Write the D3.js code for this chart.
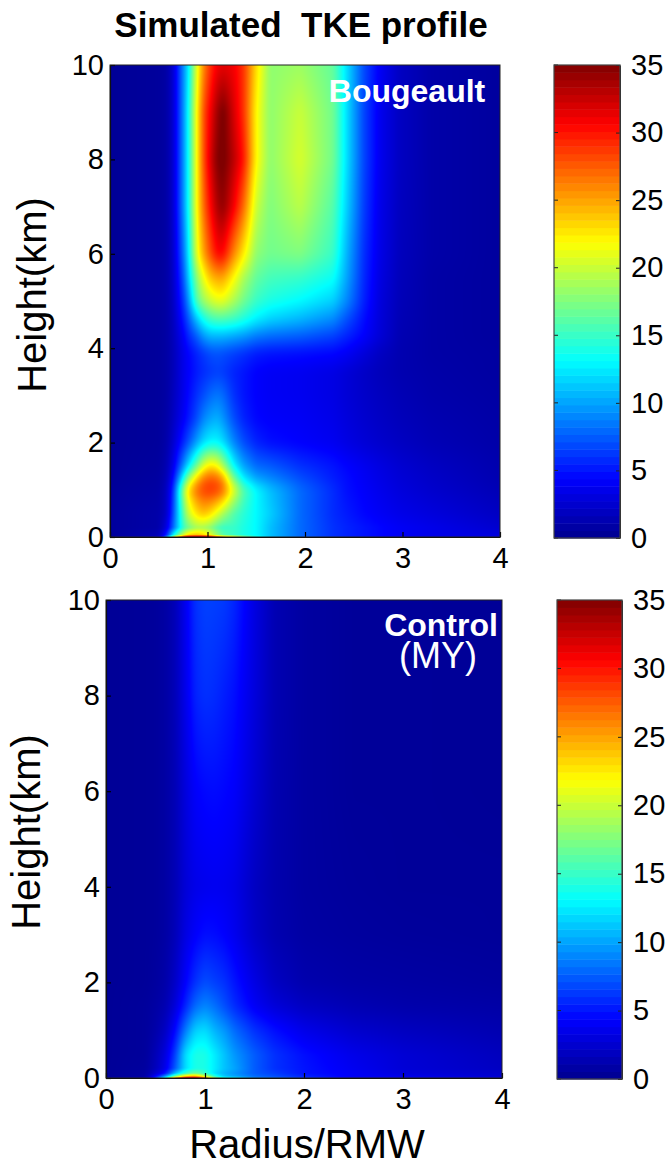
<!DOCTYPE html>
<html><head><meta charset="utf-8">
<script src="https://cdn.jsdelivr.net/npm/d3@7"></script>
<style>html,body{margin:0;padding:0;background:#fff}svg{display:block}text{font-family:"Liberation Sans",Arial,sans-serif;fill:#000}</style>
</head><body><svg id="c" width="670" height="1166"></svg>
<script>
const xTicks=[0,1,2,3,4], yTicks=[0,2,4,6,8,10], cTicks=[0,5,10,15,20,25,30,35];
const colorStops=[0,4.375,13.125,21.875,30.625,35];
const colorRange=["#00008f","#0000ff","#00ffff","#ffff00","#ff0000","#800000"];

const topRadii=[0,.5,.58,.65,.75,.8,.89,.96,1.03,1.1,1.16,1.27,1.37,1.5,1.64,1.95,2.29,2.43,2.6,2.77,2.97,3.3,4];
const topHeights=[0,.05,.2,.5,1,1.25,1.5,2,2.5,3,3.5,3.9,4.25,4.6,5,5.5,6,7,8,9,10];
const topTKE=[
[.5,2,8,20,30,33,34,34,32,28,25,22,18,14,11,8,6,5.5,5,4.5,4,3.5,3],
[.5,1.5,5,13,20,23,24,23,21,18,16,15,14,13,11,8,6,5.5,5,4.5,4,3.5,3],
[.5,1,3,8,15,17,19,19,18,16,15,15,14,13,11,8,6,5.5,5,4.5,4,3.5,2.5],
[.5,1,2,7,16,20,23,24,23,21,19,16,14.5,13,11.5,8,5.8,5.2,4.5,4,3.5,3,2],
[.4,.8,1.8,6,18,23,27,28.5,29,28.5,27,21,16,13,11,8,5.8,4.8,4.2,3.6,3,2.4,1.5],
[.3,.7,1.5,4.5,13,18,23.5,26.5,27.5,27,25,17,12.5,10,9,7,5.3,4.7,4,3.4,2.8,2.2,1.3],
[.3,.6,1.3,3.5,9,12,17,21,23,22,19,13,10,8,7.5,6,5,4.4,3.8,3.2,2.6,2,1.2],
[.3,.5,1,2.5,5.5,7,10,12,13,13,12,9,7,5.5,4.8,4.3,3.8,3.3,2.8,2.4,2,1.5,1],
[.3,.5,.9,2,4,5,7,9,10,10.5,9.5,7,5.5,4.5,4.2,4,3.5,3,2.5,2.1,1.7,1.3,.9],
[.3,.5,.8,1.8,3.5,4.5,6,7,8,8.5,8,6,5,4.3,4,3.8,3.3,2.8,2.3,1.9,1.5,1.1,.8],
[.3,.5,.8,1.6,3.5,4.2,5.2,5.8,6.2,6.5,6.3,5.5,5,4.3,4,3.8,3.3,2.8,2.2,1.7,1.3,1,.7],
[.3,.5,.8,1.6,3.5,4.3,5.5,6.3,7,7.2,7,6.5,6,5.3,5,4.8,4.5,4,3,2,1.3,.9,.7],
[.3,.5,.8,1.7,4,5.5,7.5,9.5,10.5,10.5,10.5,10,9.5,8.5,8,7.5,6.5,5.5,4.3,2.8,1.4,.9,.6],
[.3,.5,.8,1.8,5,7,11,13.5,15,15.5,15.5,15,14,12.5,11.5,10.5,9,7,4.8,2.9,1.5,.9,.6],
[.3,.5,.8,2,6,9,16,18.5,20,21,21,19,17,15,14,13,11.5,9,5.5,3,1.6,.9,.6],
[.3,.5,.8,2.2,7,11,18,21.5,24,25,25,22,19,16.5,15.5,15,13.5,10,5.8,3.2,1.7,.9,.6],
[.3,.5,.8,2.3,8,12,21,25,28,30.5,30.5,26,22.5,18,17,17.5,15,10.5,6,3.4,1.8,1,.6],
[.3,.5,.8,2.5,9,13,22,27,30.5,33.5,34.5,31,27,20,17.5,19.5,16,11.5,6.5,3.5,1.9,1,.6],
[.3,.5,.8,2.5,9,13,22,28,32,35,35.5,33,30,22,18,20.5,17,12,6.8,3.7,2,1,.6],
[.3,.5,.8,2.5,9,13,22,28,31,34,35.5,32,29,22,18,20,17,12,6.8,3.7,2,1,.6],
[.3,.5,.8,2.5,9,12,21,26,29,31,31.5,31,29,23,18,18.5,16.5,12,7,4,2,1,.6]
];

const lowRadii=[0,.4,.5,.6,.7,.8,.9,1,1.1,1.2,1.3,1.5,1.7,2,2.5,3,4];
const lowHeights=[0,.04,.1,.2,.5,1,1.5,2,3,4,6,8,10];
const lowTKE=[
[.3,1,6,14,26,32,33,28,18,14,13,9,8,6,4,3.5,3],
[.3,.8,4,9,17,23,25,20,14,11,10,8,7,5.5,4,3.5,2.5],
[.3,.7,2.5,5,11,15,17,15,12,10.5,9.5,7.5,6.5,5,4,3,2.3],
[.3,.6,1.7,3.5,7.5,12,14,14,12.5,11,10,7.5,6,5,3.8,2.8,2],
[.3,.5,1.5,3,6.5,12,14,14,12.5,11,9.5,7.5,6,4.8,3.5,2.7,1.8],
[.3,.5,1,2,4.5,8.5,11.5,12,10.5,9.5,8,6,4.8,3.5,2.4,1.9,1.3],
[.3,.5,.8,1.3,2.9,5.5,8,9,8.2,7,5.8,4,2.9,2,1.4,1.1,.9],
[.3,.4,.6,1,2.2,4.2,6,7,6.5,6,5,3.3,2,1.2,.9,.8,.6],
[.3,.4,.5,.8,1.6,3.2,4.2,4.8,4.7,4.3,3.7,2.2,1.3,.8,.6,.5,.4],
[.3,.4,.5,.8,1.5,2.8,3.5,3.7,3.8,3.7,3.4,2,1.2,.7,.5,.4,.4],
[.3,.4,.5,.8,1.5,3,4.2,4.6,4.7,4.5,4.2,2.6,1.3,.7,.4,.4,.3],
[.3,.4,.5,.8,1.6,3.5,5.5,6,5.8,5.3,4.8,3,1.4,.7,.4,.4,.3],
[.3,.4,.5,.8,1.6,3.7,6,6.6,6.5,6.3,5.6,3.2,1.4,.7,.4,.4,.3]
];

const color=d3.scaleLinear().domain(colorStops).range(colorRange).clamp(true);
const svg=d3.select("#c");

function field(R,H,Z,w,h,x,y){
  const vals=new Float32Array(w*h);
  const bi=d3.bisector(d=>d).right;
  for(let j=0;j<h;j++){
    const hv=y.invert(j+.5), j1=Math.min(Math.max(bi(H,hv),1),H.length-1), j0=j1-1, ty=(hv-H[j0])/(H[j1]-H[j0]);
    for(let i=0;i<w;i++){
      const rv=x.invert(i+.5), i1=Math.min(Math.max(bi(R,rv),1),R.length-1), i0=i1-1, tx=(rv-R[i0])/(R[i1]-R[i0]);
      vals[j*w+i]=(Z[j0][i0]*(1-tx)+Z[j0][i1]*tx)*(1-ty)+(Z[j1][i0]*(1-tx)+Z[j1][i1]*tx)*ty;
    }
  }
  const blurred=new Float32Array(vals);
  d3.blur2({data:blurred,width:w,height:h},2,0);
  const out=new Float32Array(w*h);
  for(let i=0;i<w;i++)for(let j=0;j<h;j++){
    const rad=Math.min(6,Math.floor((h-1-j)/6));let s=0,n=0;
    for(let k=-rad;k<=rad;k++){const q=j+k;if(q>=0&&q<h){s+=blurred[q*w+i];n++}}
    out[j*w+i]=s/n;
  }
  return out;
}
function panel(o){
  const x=d3.scaleLinear().domain([0,4]).range([o.x0,o.x1]);
  const y=d3.scaleLinear().domain([0,10]).range([o.y1,o.y0]);
  const w=o.x1-o.x0,h=o.y1-o.y0;
  const lx=d3.scaleLinear().domain([0,4]).range([0,w]), ly=d3.scaleLinear().domain([0,10]).range([h,0]);
  const v=field(o.R,o.H,o.Z,w,h,lx,ly);
  const cv=document.createElement("canvas");cv.width=w;cv.height=h;
  const ctx=cv.getContext("2d"),im=ctx.createImageData(w,h);
  for(let p=0;p<w*h;p++){const c=d3.rgb(color(v[p]));im.data[p*4]=c.r;im.data[p*4+1]=c.g;im.data[p*4+2]=c.b;im.data[p*4+3]=255}
  ctx.putImageData(im,0,0);
  svg.append("image").attr("x",o.x0).attr("y",o.y0).attr("width",w).attr("height",h).attr("href",cv.toDataURL());
  const gx=svg.append("g").attr("transform",`translate(0,${o.y1})`).call(d3.axisBottom(x).tickValues(xTicks).tickFormat(d3.format("d")).tickSizeInner(-5).tickSizeOuter(0).tickPadding(10));
  const gy=svg.append("g").attr("transform",`translate(${o.x0},0)`).call(d3.axisLeft(y).tickValues(yTicks).tickFormat(d3.format("d")).tickSizeInner(-5).tickSizeOuter(0).tickPadding(6));
  [gx,gy].forEach(g=>{g.selectAll("text").style("font-size","29px");g.selectAll("path,line").attr("stroke","#000").attr("stroke-width",1.2)});
  svg.append("rect").attr("x",o.x0).attr("y",o.y0).attr("width",w).attr("height",h).attr("fill","none").attr("stroke","#222").attr("stroke-width",1);
  const cy=d3.scaleLinear().domain([0,35]).range([o.y1+1,o.y0]);
  const steps=d3.range(64);
  svg.append("g").selectAll("rect").data(steps).join("rect")
    .attr("x",o.cx0).attr("width",o.cx1-o.cx0)
    .attr("y",d=>cy((d+1)*35/64)).attr("height",d=>cy(d*35/64)-cy((d+1)*35/64)+.5)
    .attr("fill",d=>color((d+.5)*35/64));
  const ca=svg.append("g").attr("transform",`translate(${o.cx1},0)`).call(d3.axisRight(cy).tickValues(cTicks).tickSizeInner(-4).tickSizeOuter(0).tickPadding(11));
  ca.selectAll("text").style("font-size","29px");
  ca.selectAll("path,line").attr("stroke","#222");
  svg.append("g").selectAll("line").data(cTicks).join("line").attr("x1",o.cx0).attr("x2",o.cx0+4).attr("y1",d=>cy(d)).attr("y2",d=>cy(d)).attr("stroke","#222");
  svg.append("rect").attr("x",o.cx0).attr("y",o.y0).attr("width",o.cx1-o.cx0).attr("height",o.y1+1-o.y0).attr("fill","none").attr("stroke","#444").attr("stroke-width",1.2);
  svg.append("text").attr("transform",`translate(${o.ylx},${o.ylc}) rotate(-90)`).attr("text-anchor","middle").style("font-size","40px").text("Height(km)");
}
panel({x0:110,x1:500,y0:65,y1:537,cx0:554,cx1:620,R:topRadii,H:topHeights,Z:topTKE,ylx:46,ylc:295});
panel({x0:106,x1:502,y0:600,y1:1078,cx0:557,cx1:622,R:lowRadii,H:lowHeights,Z:lowTKE,ylx:40,ylc:832});

svg.append("text").attr("x",301).attr("y",37).attr("text-anchor","middle").style("font-size","35px").style("font-weight","bold").style("white-space","pre").text("Simulated  TKE profile");
svg.append("text").attr("x",307).attr("y",1158).attr("text-anchor","middle").style("font-size","40px").text("Radius/RMW");
svg.append("text").attr("x",407).attr("y",102).attr("text-anchor","middle").style("font-size","32px").style("font-weight","bold").style("fill","#fff").text("Bougeault");
svg.append("text").attr("x",441).attr("y",636).attr("text-anchor","middle").style("font-size","32px").style("font-weight","bold").style("fill","#fff").text("Control");
svg.append("text").attr("x",438).attr("y",668).attr("text-anchor","middle").style("font-size","36px").style("fill","#fff").text("(MY)");
</script></body></html>
